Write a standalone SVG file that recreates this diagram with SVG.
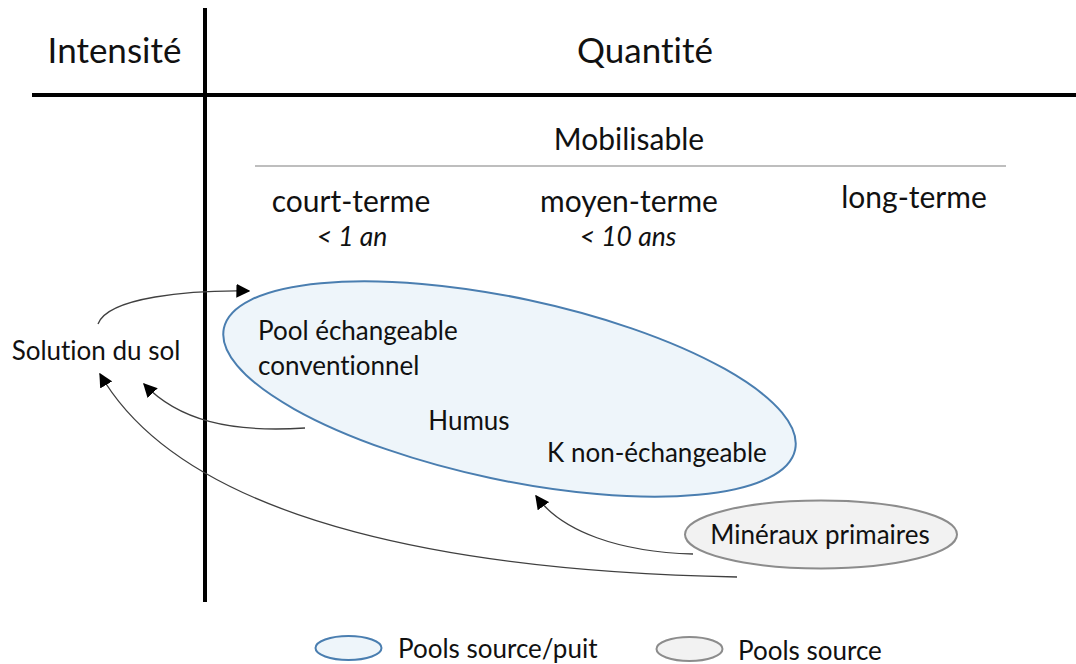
<svg xmlns="http://www.w3.org/2000/svg" width="1076" height="664" viewBox="0 0 1076 664">
<defs>
<style>
text{font-family:Lato,"Open Sans","Liberation Sans",sans-serif;fill:#111;font-variant-ligatures:none;}
.h{font-size:35px;}
.m{font-size:30px;}
.s{font-size:26px;}
.i{font-size:26.5px;font-style:italic;}
.c{text-anchor:middle;}
.conn{fill:none;stroke:#404040;stroke-width:1.3;}
.sp{fill:#EEF5FA;stroke:#4A7EB0;stroke-width:2;}
.src{fill:#F2F2F2;stroke:#8C8C8C;stroke-width:2;}
</style>
<marker id="ah" viewBox="0 0 10 10" refX="9" refY="5" markerWidth="14" markerHeight="14" markerUnits="userSpaceOnUse" orient="auto">
<path d="M0,0 L10,5 L0,10 z" fill="#000"/>
</marker>
</defs>
<rect width="1076" height="664" fill="#fff"/>
<g id="axes">
<line x1="205" y1="8" x2="205" y2="602" stroke="#000" stroke-width="4"/>
<line x1="32" y1="95" x2="1076" y2="95" stroke="#000" stroke-width="4"/>
<line x1="255" y1="166" x2="1006" y2="166" stroke="#7F7F7F" stroke-width="1.2"/>
</g>
<g id="headers">
<text class="h c" x="114.5" y="63">Intensité</text>
<text class="h c" x="645" y="63">Quantité</text>
<text class="m c" x="629" y="150">Mobilisable</text>
<text class="m c" x="351" y="212">court-terme</text>
<text class="m c" x="629" y="212">moyen-terme</text>
<text class="m c" x="914" y="208">long-terme</text>
<text class="i c" x="352" y="246">&lt; 1 an</text>
<text class="i c" x="628" y="246">&lt; 10 ans</text>
</g>
<g id="solution">
<text class="s c" x="96" y="360">Solution du sol</text>
</g>
<g id="pool-echangeable">
<ellipse class="sp" cx="509.5" cy="389" rx="292" ry="91" transform="rotate(12 509.5 389)"/>
<text class="s" x="258" y="340">Pool échangeable</text>
<text class="s" x="258" y="375">conventionnel</text>
<text class="s c" x="469" y="430">Humus</text>
<text class="s" x="547" y="462">K non-échangeable</text>
</g>
<g id="mineraux">
<ellipse class="src" cx="821" cy="534.5" rx="136" ry="34"/>
<text class="s c" x="820" y="544">Minéraux primaires</text>
</g>
<g id="connectors">
<path class="conn" d="M98,324 C108,297 190,290 249,291" marker-end="url(#ah)"/>
<path class="conn" d="M305,428 C230,433 178,420 144,384" marker-end="url(#ah)"/>
<path class="conn" d="M737,577 C480,572 190,530 100,374" marker-end="url(#ah)"/>
<path class="conn" d="M693,554 C620,552 562,532 536,496" marker-end="url(#ah)"/>
</g>
<g id="legend">
<ellipse class="sp" cx="348.5" cy="648" rx="33" ry="12"/>
<text class="s" x="398" y="658">Pools source/puit</text>
<ellipse class="src" cx="689.5" cy="649" rx="33" ry="12"/>
<text class="s" x="738" y="660">Pools source</text>
</g>
</svg>
